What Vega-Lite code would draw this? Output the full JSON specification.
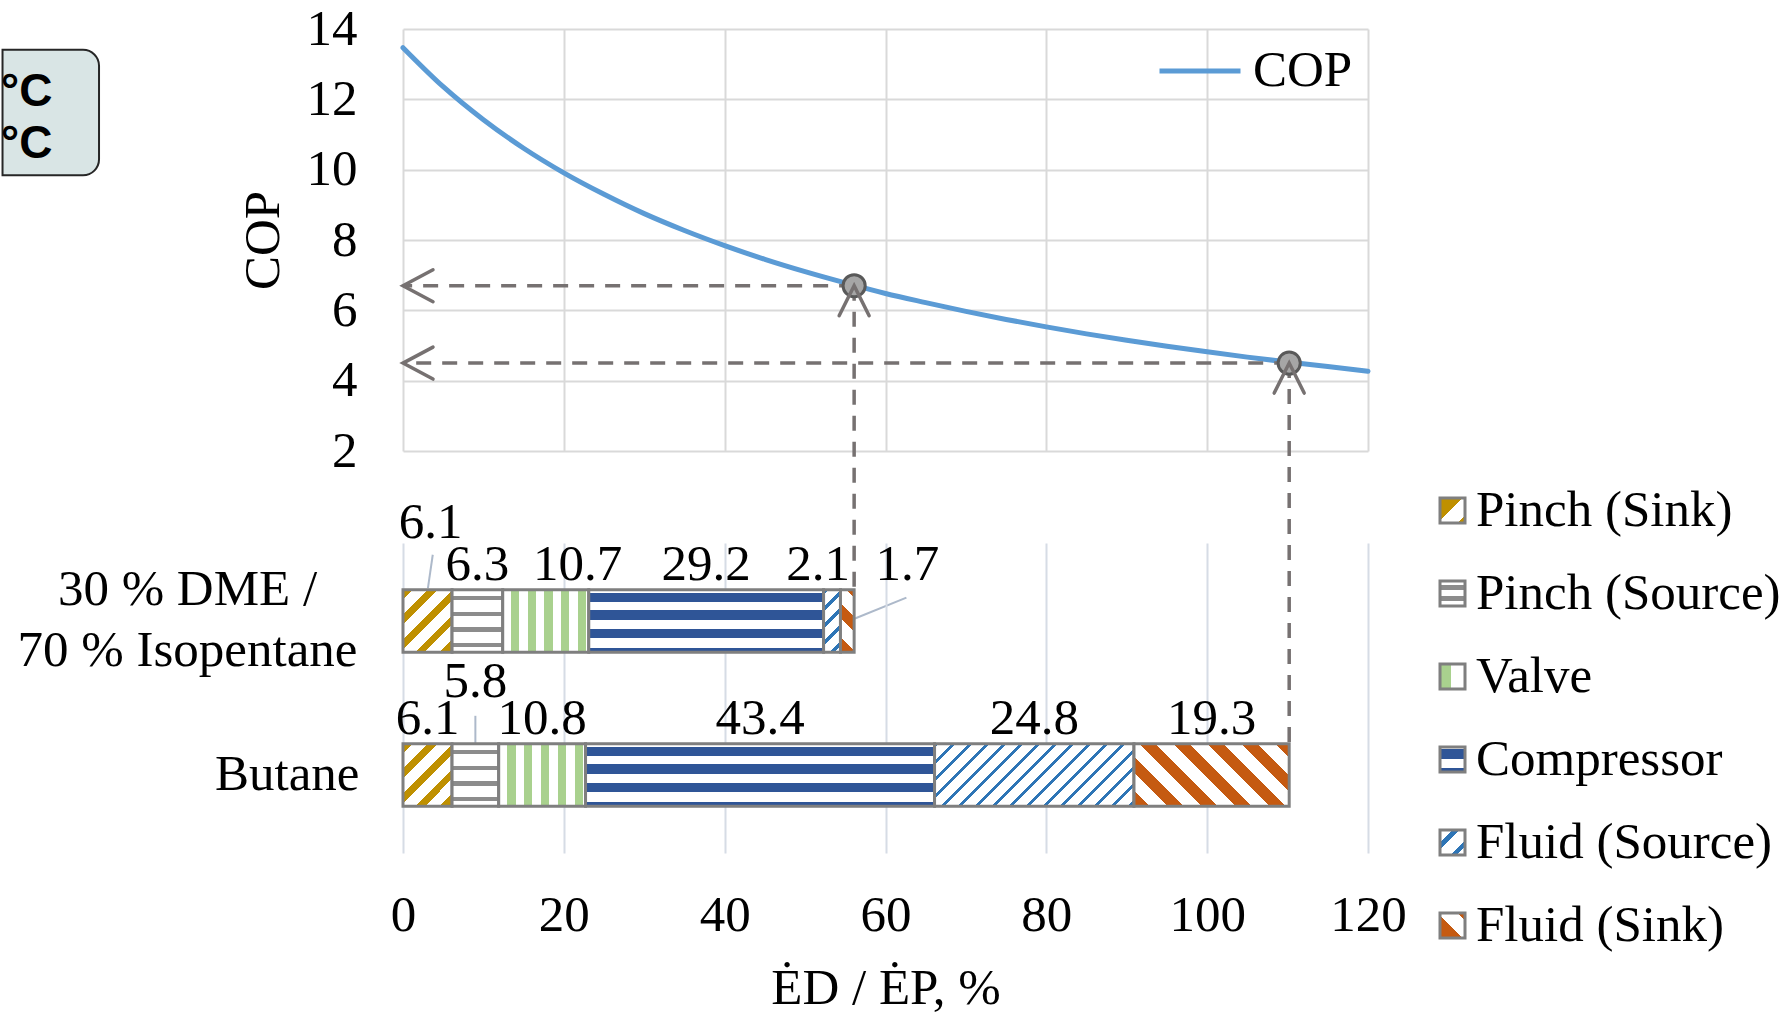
{
  "$schema": "https://vega.github.io/schema/vega-lite/v6.json",
  "background": "white",
  "padding": {"left": 0, "top": 3, "right": 0, "bottom": 0},
  "bounds": "flush",
  "spacing": 92,
  "datasets": {
    "cop": [
      {"ed": 0, "cop": 13.47}, {"ed": 5, "cop": 12.36}, {"ed": 10, "cop": 11.42}, {"ed": 15, "cop": 10.61},
      {"ed": 20, "cop": 9.91}, {"ed": 25, "cop": 9.3}, {"ed": 30, "cop": 8.75}, {"ed": 35, "cop": 8.27},
      {"ed": 40, "cop": 7.84}, {"ed": 45, "cop": 7.45}, {"ed": 50, "cop": 7.1}, {"ed": 55, "cop": 6.78},
      {"ed": 60, "cop": 6.48}, {"ed": 65, "cop": 6.22}, {"ed": 70, "cop": 5.97}, {"ed": 75, "cop": 5.74},
      {"ed": 80, "cop": 5.53}, {"ed": 85, "cop": 5.33}, {"ed": 90, "cop": 5.15}, {"ed": 95, "cop": 4.98},
      {"ed": 100, "cop": 4.82}, {"ed": 105, "cop": 4.67}, {"ed": 110, "cop": 4.53}, {"ed": 115, "cop": 4.4},
      {"ed": 120, "cop": 4.27}
    ],
    "pts": [
      {"fluid": "30 % DME / 70 % Isopentane", "ed": 56.1, "cop": 6.7},
      {"fluid": "Butane", "ed": 110.2, "cop": 4.5}
    ],
    "note": [{"lines": ["°C", "°C"]}],
    "bars": [
      {"fluid": "30 % DME / 70 % Isopentane", "component": "Pinch (Sink)", "value": 6.1, "order": 1},
      {"fluid": "30 % DME / 70 % Isopentane", "component": "Pinch (Source)", "value": 6.3, "order": 2},
      {"fluid": "30 % DME / 70 % Isopentane", "component": "Valve", "value": 10.7, "order": 3},
      {"fluid": "30 % DME / 70 % Isopentane", "component": "Compressor", "value": 29.2, "order": 4},
      {"fluid": "30 % DME / 70 % Isopentane", "component": "Fluid (Source)", "value": 2.1, "order": 5},
      {"fluid": "30 % DME / 70 % Isopentane", "component": "Fluid (Sink)", "value": 1.7, "order": 6},
      {"fluid": "Butane", "component": "Pinch (Sink)", "value": 6.1, "order": 1},
      {"fluid": "Butane", "component": "Pinch (Source)", "value": 5.8, "order": 2},
      {"fluid": "Butane", "component": "Valve", "value": 10.8, "order": 3},
      {"fluid": "Butane", "component": "Compressor", "value": 43.4, "order": 4},
      {"fluid": "Butane", "component": "Fluid (Source)", "value": 24.8, "order": 5},
      {"fluid": "Butane", "component": "Fluid (Sink)", "value": 19.3, "order": 6}
    ]
  },
  "vconcat": [
    {
      "width": 965,
      "height": 422,
      "layer": [
        {
          "data": {"name": "cop"},
          "mark": {"type": "line", "interpolate": "monotone", "strokeWidth": 5, "strokeCap": "round"},
          "encoding": {
            "x": {"field": "ed", "type": "quantitative", "scale": {"domain": [0, 120], "nice": false},
              "axis": {"values": [0, 20, 40, 60, 80, 100, 120], "labels": false, "ticks": false, "domain": false, "title": null, "grid": true, "gridColor": "#d9d9d9", "gridWidth": 2}},
            "y": {"field": "cop", "type": "quantitative", "scale": {"domain": [2, 14], "nice": false, "zero": false},
              "axis": {"values": [2, 4, 6, 8, 10, 12, 14], "grid": true, "gridColor": "#d9d9d9", "gridWidth": 2, "ticks": false, "domain": false, "labelFontSize": 51, "labelPadding": 46, "title": "COP", "titleFontSize": 51, "titleFontWeight": "normal", "titlePadding": 17}},
            "stroke": {"datum": "COP", "type": "nominal", "scale": {"range": ["#5b9bd5"]},
              "legend": {"orient": "none", "legendX": 754, "legendY": -1, "title": null, "symbolType": "stroke", "symbolSize": 6561, "symbolStrokeWidth": 5, "labelFontSize": 51, "labelOffset": 10, "padding": 0}}
          }
        },
        {
          "data": {"name": "note"},
          "mark": {"type": "rect", "fill": "#d9e5e5", "stroke": "#262626", "strokeWidth": 2, "cornerRadiusTopRight": 16, "cornerRadiusBottomRight": 16},
          "encoding": {
            "x": {"datum": -49.8, "type": "quantitative"},
            "x2": {"datum": -37.8},
            "y": {"datum": 13.41, "type": "quantitative"},
            "y2": {"datum": 9.84}
          }
        },
        {
          "data": {"name": "note"},
          "mark": {"type": "text", "align": "right", "baseline": "middle", "font": "Liberation Sans", "fontWeight": "bold", "fontSize": 46, "lineHeight": 52, "color": "#000000"},
          "encoding": {
            "x": {"datum": -43.6, "type": "quantitative"},
            "y": {"datum": 12.2, "type": "quantitative"},
            "text": {"field": "lines", "type": "nominal"}
          }
        },
        {
          "data": {"name": "note"},
          "mark": {"type": "rule", "color": "#adb9ca", "strokeWidth": 2},
          "encoding": {
            "x": {"datum": 3.7, "type": "quantitative"},
            "x2": {"datum": 3.1},
            "y": {"datum": -0.95, "type": "quantitative"},
            "y2": {"datum": -1.9}
          }
        },
        {
          "data": {"name": "note"},
          "mark": {"type": "rule", "color": "#adb9ca", "strokeWidth": 2},
          "encoding": {
            "x": {"datum": 9.0, "type": "quantitative"},
            "x2": {"datum": 9.0},
            "y": {"datum": -5.53, "type": "quantitative"},
            "y2": {"datum": -6.32}
          }
        },
        {
          "data": {"name": "note"},
          "mark": {"type": "rule", "color": "#adb9ca", "strokeWidth": 2},
          "encoding": {
            "x": {"datum": 55.9, "type": "quantitative"},
            "x2": {"datum": 62.6},
            "y": {"datum": -2.79, "type": "quantitative"},
            "y2": {"datum": -2.17}
          }
        },
        {
          "data": {"name": "pts"},
          "mark": {"type": "rule", "color": "#767171", "strokeWidth": 3.5, "strokeDash": [15, 11]},
          "encoding": {
            "x": {"field": "ed", "type": "quantitative"},
            "x2": {"datum": 0},
            "y": {"field": "cop", "type": "quantitative"}
          }
        },
        {
          "data": {"name": "pts"},
          "transform": [{"filter": "datum.fluid !== 'Butane'"}],
          "mark": {"type": "rule", "color": "#767171", "strokeWidth": 3.5, "strokeDash": [15, 11]},
          "encoding": {
            "x": {"field": "ed", "type": "quantitative"},
            "y": {"field": "cop", "type": "quantitative"},
            "y2": {"datum": -1.94}
          }
        },
        {
          "data": {"name": "pts"},
          "transform": [{"filter": "datum.fluid === 'Butane'"}],
          "mark": {"type": "rule", "color": "#767171", "strokeWidth": 3.5, "strokeDash": [15, 11]},
          "encoding": {
            "x": {"field": "ed", "type": "quantitative"},
            "y": {"field": "cop", "type": "quantitative"},
            "y2": {"datum": -6.32}
          }
        },
        {
          "data": {"name": "pts"},
          "mark": {"type": "circle", "size": 490, "fill": "#a6a6a6", "stroke": "#595959", "strokeWidth": 3, "opacity": 1},
          "encoding": {
            "x": {"field": "ed", "type": "quantitative"},
            "y": {"field": "cop", "type": "quantitative"}
          }
        },
        {
          "data": {"name": "pts"},
          "mark": {"type": "point", "shape": "M1,-0.533L0,0L1,0.533", "size": 3600, "filled": false, "color": "#767171", "strokeWidth": 3.5, "opacity": 1, "strokeCap": "round"},
          "encoding": {
            "x": {"datum": 0, "type": "quantitative"},
            "y": {"field": "cop", "type": "quantitative"}
          }
        },
        {
          "data": {"name": "pts"},
          "mark": {"type": "point", "shape": "M-0.5,1L0,0L0.5,1", "size": 3600, "filled": false, "color": "#767171", "strokeWidth": 3.5, "opacity": 1, "strokeCap": "round"},
          "encoding": {
            "x": {"field": "ed", "type": "quantitative"},
            "y": {"field": "cop", "type": "quantitative"}
          }
        }
      ]
    },
    {
      "width": 965,
      "height": 310,
      "data": {"name": "bars"},
      "transform": [{"stack": "value", "groupby": ["fluid"], "sort": [{"field": "order", "order": "ascending"}], "as": ["x0", "x1"]}],
      "layer": [
        {
          "mark": {"type": "bar", "stroke": "#7f7f7f", "strokeWidth": 3},
          "encoding": {
            "x": {"field": "x0", "type": "quantitative", "stack": null, "scale": {"domain": [0, 120], "nice": false},
              "axis": {"values": [0, 20, 40, 60, 80, 100, 120], "grid": true, "gridColor": "#d6dce5", "gridWidth": 2, "ticks": false, "domain": false, "labelFontSize": 51, "labelPadding": 37, "labelFlush": false, "title": "ĖD / ĖP, %", "titleFontSize": 51, "titleFontWeight": "normal", "titlePadding": 23}},
            "x2": {"field": "x1"},
            "y": {"field": "fluid", "type": "nominal", "sort": ["30 % DME / 70 % Isopentane", "Butane"], "scale": {"paddingInner": 0.5955, "paddingOuter": 0.304},
              "axis": {"ticks": false, "domain": false, "grid": false, "labelFontSize": 51, "labelLimit": 1000, "labelLineHeight": 61, "title": null,
                "labelAlign": {"condition": {"test": "datum.value === 'Butane'", "value": "right"}, "value": "center"},
                "labelPadding": {"condition": {"test": "datum.value === 'Butane'", "value": 44}, "value": 216},
                "labelOffset": {"condition": {"test": "datum.value === 'Butane'", "value": 0}, "value": -30.5},
                "labelExpr": "datum.value === 'Butane' ? 'Butane' : ['30 % DME /', '70 % Isopentane']"}},
            "fill": {
              "field": "component", "type": "nominal",
              "scale": {"domain": ["Pinch (Sink)", "Pinch (Source)", "Valve", "Compressor", "Fluid (Source)", "Fluid (Sink)"],
                        "range": [
                          {"expr": "{gradient:'linear',x1:0,y1:0,x2:1,y2:1,stops:[{offset:0,color:'#bf9000'},{offset:0.45,color:'#bf9000'},{offset:0.45,color:'#ffffff'},{offset:0.85,color:'#ffffff'},{offset:0.85,color:'#bf9000'},{offset:1,color:'#bf9000'}]}"},
                          {"expr": "{gradient:'linear',x1:0,y1:0,x2:0,y2:1,stops:[{offset:0,color:'#ffffff'},{offset:0.15,color:'#ffffff'},{offset:0.15,color:'#8c8c8c'},{offset:0.35,color:'#8c8c8c'},{offset:0.35,color:'#ffffff'},{offset:0.6,color:'#ffffff'},{offset:0.6,color:'#8c8c8c'},{offset:0.8,color:'#8c8c8c'},{offset:0.8,color:'#ffffff'},{offset:1,color:'#ffffff'}]}"},
                          {"expr": "{gradient:'linear',x1:0,y1:0,x2:1,y2:0,stops:[{offset:0,color:'#a9d18e'},{offset:0.45,color:'#a9d18e'},{offset:0.45,color:'#ffffff'},{offset:1,color:'#ffffff'}]}"},
                          {"expr": "{gradient:'linear',x1:0,y1:0,x2:0,y2:1,stops:[{offset:0,color:'#ffffff'},{offset:0.08,color:'#ffffff'},{offset:0.08,color:'#2f5597'},{offset:0.5,color:'#2f5597'},{offset:0.5,color:'#ffffff'},{offset:0.85,color:'#ffffff'},{offset:0.85,color:'#2f5597'},{offset:1,color:'#2f5597'}]}"},
                          {"expr": "{gradient:'linear',x1:0,y1:0,x2:1,y2:1,stops:[{offset:0,color:'#ffffff'},{offset:0.25,color:'#ffffff'},{offset:0.25,color:'#2e75b6'},{offset:0.38,color:'#2e75b6'},{offset:0.38,color:'#ffffff'},{offset:0.7,color:'#ffffff'},{offset:0.7,color:'#2e75b6'},{offset:0.83,color:'#2e75b6'},{offset:0.83,color:'#ffffff'},{offset:1,color:'#ffffff'}]}"},
                          {"expr": "{gradient:'linear',x1:0,y1:1,x2:1,y2:0,stops:[{offset:0,color:'#c55a11'},{offset:0.45,color:'#c55a11'},{offset:0.45,color:'#ffffff'},{offset:0.85,color:'#ffffff'},{offset:0.85,color:'#c55a11'},{offset:1,color:'#c55a11'}]}"}
                        ]},
              "legend": {"orient": "none", "legendX": 1024, "legendY": 456, "title": null, "symbolType": "square", "symbolSize": 625, "symbolStrokeColor": "#7f7f7f", "symbolStrokeWidth": 3, "labelFontSize": 51, "labelOffset": -2, "labelLimit": 1000, "rowPadding": 31, "padding": 0},
              "condition": [
                {"test": "datum.component === 'Pinch (Sink)'", "value": {"gradient": "linear", "x1": 0, "y1": 0, "x2": 0.869, "y2": 1.103, "stops": [
                  {"offset": 0, "color": "#bf9000"}, {"offset": 0.0889, "color": "#bf9000"}, {"offset": 0.0889, "color": "#ffffff"}, {"offset": 0.2222, "color": "#ffffff"},
                  {"offset": 0.2222, "color": "#bf9000"}, {"offset": 0.3111, "color": "#bf9000"}, {"offset": 0.3111, "color": "#ffffff"}, {"offset": 0.4444, "color": "#ffffff"},
                  {"offset": 0.4444, "color": "#bf9000"}, {"offset": 0.5333, "color": "#bf9000"}, {"offset": 0.5333, "color": "#ffffff"}, {"offset": 0.6667, "color": "#ffffff"},
                  {"offset": 0.6667, "color": "#bf9000"}, {"offset": 0.7556, "color": "#bf9000"}, {"offset": 0.7556, "color": "#ffffff"}, {"offset": 0.8889, "color": "#ffffff"},
                  {"offset": 0.8889, "color": "#bf9000"}, {"offset": 0.9778, "color": "#bf9000"}, {"offset": 0.9778, "color": "#ffffff"}, {"offset": 1, "color": "#ffffff"}]}},
                {"test": "datum.component === 'Pinch (Source)'", "value": {"gradient": "linear", "x1": 0, "y1": 0, "x2": 0, "y2": 1, "stops": [
                  {"offset": 0, "color": "#ffffff"}, {"offset": 0.1, "color": "#ffffff"}, {"offset": 0.1, "color": "#8c8c8c"}, {"offset": 0.17, "color": "#8c8c8c"},
                  {"offset": 0.17, "color": "#ffffff"}, {"offset": 0.35, "color": "#ffffff"}, {"offset": 0.35, "color": "#8c8c8c"}, {"offset": 0.42, "color": "#8c8c8c"},
                  {"offset": 0.42, "color": "#ffffff"}, {"offset": 0.6, "color": "#ffffff"}, {"offset": 0.6, "color": "#8c8c8c"}, {"offset": 0.67, "color": "#8c8c8c"},
                  {"offset": 0.67, "color": "#ffffff"}, {"offset": 0.85, "color": "#ffffff"}, {"offset": 0.85, "color": "#8c8c8c"}, {"offset": 0.92, "color": "#8c8c8c"},
                  {"offset": 0.92, "color": "#ffffff"}, {"offset": 1, "color": "#ffffff"}]}},
                {"test": "datum.component === 'Valve'", "value": {"gradient": "linear", "x1": 0, "y1": 0, "x2": 1, "y2": 0, "stops": [
                  {"offset": 0, "color": "#ffffff"}, {"offset": 0.097, "color": "#ffffff"}, {"offset": 0.097, "color": "#a9d18e"}, {"offset": 0.194, "color": "#a9d18e"},
                  {"offset": 0.194, "color": "#ffffff"}, {"offset": 0.291, "color": "#ffffff"}, {"offset": 0.291, "color": "#a9d18e"}, {"offset": 0.388, "color": "#a9d18e"},
                  {"offset": 0.388, "color": "#ffffff"}, {"offset": 0.485, "color": "#ffffff"}, {"offset": 0.485, "color": "#a9d18e"}, {"offset": 0.582, "color": "#a9d18e"},
                  {"offset": 0.582, "color": "#ffffff"}, {"offset": 0.679, "color": "#ffffff"}, {"offset": 0.679, "color": "#a9d18e"}, {"offset": 0.776, "color": "#a9d18e"},
                  {"offset": 0.776, "color": "#ffffff"}, {"offset": 0.873, "color": "#ffffff"}, {"offset": 0.873, "color": "#a9d18e"}, {"offset": 0.97, "color": "#a9d18e"},
                  {"offset": 0.97, "color": "#ffffff"}, {"offset": 1, "color": "#ffffff"}]}},
                {"test": "datum.component === 'Compressor'", "value": {"gradient": "linear", "x1": 0, "y1": 0, "x2": 0, "y2": 1, "stops": [
                  {"offset": 0, "color": "#ffffff"}, {"offset": 0.045, "color": "#ffffff"}, {"offset": 0.045, "color": "#2f5597"}, {"offset": 0.19, "color": "#2f5597"},
                  {"offset": 0.19, "color": "#ffffff"}, {"offset": 0.33, "color": "#ffffff"}, {"offset": 0.33, "color": "#2f5597"}, {"offset": 0.48, "color": "#2f5597"},
                  {"offset": 0.48, "color": "#ffffff"}, {"offset": 0.63, "color": "#ffffff"}, {"offset": 0.63, "color": "#2f5597"}, {"offset": 0.78, "color": "#2f5597"},
                  {"offset": 0.78, "color": "#ffffff"}, {"offset": 0.93, "color": "#ffffff"}, {"offset": 0.93, "color": "#2f5597"}, {"offset": 1, "color": "#2f5597"}]}},
                {"test": "datum.component === 'Fluid (Source)' && datum.fluid === 'Butane'", "value": {"gradient": "linear", "x1": 0, "y1": 0, "x2": 1.196, "y2": 0.374, "stops": [
                  {"offset": 0, "color": "#2e75b6"}, {"offset": 0.0143, "color": "#2e75b6"}, {"offset": 0.0143, "color": "#ffffff"}, {"offset": 0.0649, "color": "#ffffff"},
                  {"offset": 0.0649, "color": "#2e75b6"}, {"offset": 0.0792, "color": "#2e75b6"}, {"offset": 0.0792, "color": "#ffffff"}, {"offset": 0.1299, "color": "#ffffff"},
                  {"offset": 0.1299, "color": "#2e75b6"}, {"offset": 0.1442, "color": "#2e75b6"}, {"offset": 0.1442, "color": "#ffffff"}, {"offset": 0.1948, "color": "#ffffff"},
                  {"offset": 0.1948, "color": "#2e75b6"}, {"offset": 0.2091, "color": "#2e75b6"}, {"offset": 0.2091, "color": "#ffffff"}, {"offset": 0.2597, "color": "#ffffff"},
                  {"offset": 0.2597, "color": "#2e75b6"}, {"offset": 0.274, "color": "#2e75b6"}, {"offset": 0.274, "color": "#ffffff"}, {"offset": 0.3247, "color": "#ffffff"},
                  {"offset": 0.3247, "color": "#2e75b6"}, {"offset": 0.339, "color": "#2e75b6"}, {"offset": 0.339, "color": "#ffffff"}, {"offset": 0.3896, "color": "#ffffff"},
                  {"offset": 0.3896, "color": "#2e75b6"}, {"offset": 0.4039, "color": "#2e75b6"}, {"offset": 0.4039, "color": "#ffffff"}, {"offset": 0.4545, "color": "#ffffff"},
                  {"offset": 0.4545, "color": "#2e75b6"}, {"offset": 0.4688, "color": "#2e75b6"}, {"offset": 0.4688, "color": "#ffffff"}, {"offset": 0.5195, "color": "#ffffff"},
                  {"offset": 0.5195, "color": "#2e75b6"}, {"offset": 0.5338, "color": "#2e75b6"}, {"offset": 0.5338, "color": "#ffffff"}, {"offset": 0.5844, "color": "#ffffff"},
                  {"offset": 0.5844, "color": "#2e75b6"}, {"offset": 0.5987, "color": "#2e75b6"}, {"offset": 0.5987, "color": "#ffffff"}, {"offset": 0.6494, "color": "#ffffff"},
                  {"offset": 0.6494, "color": "#2e75b6"}, {"offset": 0.6637, "color": "#2e75b6"}, {"offset": 0.6637, "color": "#ffffff"}, {"offset": 0.7143, "color": "#ffffff"},
                  {"offset": 0.7143, "color": "#2e75b6"}, {"offset": 0.7286, "color": "#2e75b6"}, {"offset": 0.7286, "color": "#ffffff"}, {"offset": 0.7792, "color": "#ffffff"},
                  {"offset": 0.7792, "color": "#2e75b6"}, {"offset": 0.7935, "color": "#2e75b6"}, {"offset": 0.7935, "color": "#ffffff"}, {"offset": 0.8442, "color": "#ffffff"},
                  {"offset": 0.8442, "color": "#2e75b6"}, {"offset": 0.8585, "color": "#2e75b6"}, {"offset": 0.8585, "color": "#ffffff"}, {"offset": 0.9091, "color": "#ffffff"},
                  {"offset": 0.9091, "color": "#2e75b6"}, {"offset": 0.9234, "color": "#2e75b6"}, {"offset": 0.9234, "color": "#ffffff"}, {"offset": 0.974, "color": "#ffffff"},
                  {"offset": 0.974, "color": "#2e75b6"}, {"offset": 0.9883, "color": "#2e75b6"}, {"offset": 0.9883, "color": "#ffffff"}, {"offset": 1, "color": "#ffffff"}]}},
                {"test": "datum.component === 'Fluid (Source)'", "value": {"gradient": "linear", "x1": 0, "y1": 0, "x2": 0.321, "y2": 1.184, "stops": [
                  {"offset": 0, "color": "#2e75b6"}, {"offset": 0.0644, "color": "#2e75b6"}, {"offset": 0.0644, "color": "#ffffff"}, {"offset": 0.2146, "color": "#ffffff"},
                  {"offset": 0.2146, "color": "#2e75b6"}, {"offset": 0.279, "color": "#2e75b6"}, {"offset": 0.279, "color": "#ffffff"}, {"offset": 0.4292, "color": "#ffffff"},
                  {"offset": 0.4292, "color": "#2e75b6"}, {"offset": 0.4936, "color": "#2e75b6"}, {"offset": 0.4936, "color": "#ffffff"}, {"offset": 0.6438, "color": "#ffffff"},
                  {"offset": 0.6438, "color": "#2e75b6"}, {"offset": 0.7082, "color": "#2e75b6"}, {"offset": 0.7082, "color": "#ffffff"}, {"offset": 0.8584, "color": "#ffffff"},
                  {"offset": 0.8584, "color": "#2e75b6"}, {"offset": 0.9228, "color": "#2e75b6"}, {"offset": 0.9228, "color": "#ffffff"}, {"offset": 1, "color": "#ffffff"}]}},
                {"test": "datum.component === 'Fluid (Sink)' && datum.fluid === 'Butane'", "value": {"gradient": "linear", "x1": 0, "y1": 1, "x2": 1.207, "y2": 0.516, "stops": [
                  {"offset": 0, "color": "#c55a11"}, {"offset": 0.0703, "color": "#c55a11"}, {"offset": 0.0703, "color": "#ffffff"}, {"offset": 0.1563, "color": "#ffffff"},
                  {"offset": 0.1563, "color": "#c55a11"}, {"offset": 0.2266, "color": "#c55a11"}, {"offset": 0.2266, "color": "#ffffff"}, {"offset": 0.3125, "color": "#ffffff"},
                  {"offset": 0.3125, "color": "#c55a11"}, {"offset": 0.3828, "color": "#c55a11"}, {"offset": 0.3828, "color": "#ffffff"}, {"offset": 0.4688, "color": "#ffffff"},
                  {"offset": 0.4688, "color": "#c55a11"}, {"offset": 0.5391, "color": "#c55a11"}, {"offset": 0.5391, "color": "#ffffff"}, {"offset": 0.625, "color": "#ffffff"},
                  {"offset": 0.625, "color": "#c55a11"}, {"offset": 0.6953, "color": "#c55a11"}, {"offset": 0.6953, "color": "#ffffff"}, {"offset": 0.7813, "color": "#ffffff"},
                  {"offset": 0.7813, "color": "#c55a11"}, {"offset": 0.8516, "color": "#c55a11"}, {"offset": 0.8516, "color": "#ffffff"}, {"offset": 0.9375, "color": "#ffffff"},
                  {"offset": 0.9375, "color": "#c55a11"}, {"offset": 1, "color": "#c55a11"}]}},
                {"test": "datum.component === 'Fluid (Sink)'", "value": {"gradient": "linear", "x1": 0, "y1": 1, "x2": 0.256, "y2": -0.164, "stops": [
                  {"offset": 0, "color": "#c55a11"}, {"offset": 0.2009, "color": "#c55a11"}, {"offset": 0.2009, "color": "#ffffff"}, {"offset": 0.4464, "color": "#ffffff"},
                  {"offset": 0.4464, "color": "#c55a11"}, {"offset": 0.6473, "color": "#c55a11"}, {"offset": 0.6473, "color": "#ffffff"}, {"offset": 0.8929, "color": "#ffffff"},
                  {"offset": 0.8929, "color": "#c55a11"}, {"offset": 1, "color": "#c55a11"}]}}
              ]
            }
          }
        },
        {
          "transform": [
            {"fold": ["x0", "x1"], "as": ["edge", "pos"]},
            {"aggregate": [{"op": "mean", "field": "pos", "as": "mid"}], "groupby": ["fluid", "component", "value"]}
          ],
          "layer": [
            {
              "transform": [{"filter": "!((datum.fluid !== 'Butane' && (datum.component === 'Pinch (Sink)' || datum.component === 'Valve' || datum.component === 'Fluid (Source)' || datum.component === 'Fluid (Sink)')) || (datum.fluid === 'Butane' && datum.component === 'Pinch (Source)'))"}],
              "mark": {"type": "text", "fontSize": 51, "font": "Liberation Serif", "baseline": "alphabetic", "align": "center", "dy": -10, "color": "#000000"},
              "encoding": {
                "x": {"field": "mid", "type": "quantitative"},
                "y": {"field": "fluid", "type": "nominal", "sort": ["30 % DME / 70 % Isopentane", "Butane"], "bandPosition": 0},
                "text": {"field": "value", "type": "quantitative", "format": ".1f"}
              }
            },
            {
              "transform": [{"filter": "datum.fluid !== 'Butane' && datum.component === 'Valve'"}],
              "mark": {"type": "text", "fontSize": 51, "font": "Liberation Serif", "baseline": "alphabetic", "align": "center", "dx": 32, "dy": -10, "color": "#000000"},
              "encoding": {
                "x": {"field": "mid", "type": "quantitative"},
                "y": {"field": "fluid", "type": "nominal", "sort": ["30 % DME / 70 % Isopentane", "Butane"], "bandPosition": 0},
                "text": {"field": "value", "type": "quantitative", "format": ".1f"}
              }
            },
            {
              "transform": [{"filter": "datum.fluid !== 'Butane' && datum.component === 'Fluid (Source)'"}],
              "mark": {"type": "text", "fontSize": 51, "font": "Liberation Serif", "baseline": "alphabetic", "align": "center", "dx": -14, "dy": -10, "color": "#000000"},
              "encoding": {
                "x": {"field": "mid", "type": "quantitative"},
                "y": {"field": "fluid", "type": "nominal", "sort": ["30 % DME / 70 % Isopentane", "Butane"], "bandPosition": 0},
                "text": {"field": "value", "type": "quantitative", "format": ".1f"}
              }
            },
            {
              "transform": [{"filter": "datum.fluid !== 'Butane' && datum.component === 'Fluid (Sink)'"}],
              "mark": {"type": "text", "fontSize": 51, "font": "Liberation Serif", "baseline": "alphabetic", "align": "center", "dx": 60, "dy": -10, "color": "#000000"},
              "encoding": {
                "x": {"field": "mid", "type": "quantitative"},
                "y": {"field": "fluid", "type": "nominal", "sort": ["30 % DME / 70 % Isopentane", "Butane"], "bandPosition": 0},
                "text": {"field": "value", "type": "quantitative", "format": ".1f"}
              }
            },
            {
              "transform": [{"filter": "datum.fluid !== 'Butane' && datum.component === 'Pinch (Sink)'"}],
              "mark": {"type": "text", "fontSize": 51, "font": "Liberation Serif", "baseline": "alphabetic", "align": "center", "dx": 3, "dy": -52, "color": "#000000"},
              "encoding": {
                "x": {"field": "mid", "type": "quantitative"},
                "y": {"field": "fluid", "type": "nominal", "sort": ["30 % DME / 70 % Isopentane", "Butane"], "bandPosition": 0},
                "text": {"field": "value", "type": "quantitative", "format": ".1f"}
              }
            },
            {
              "transform": [{"filter": "datum.fluid === 'Butane' && datum.component === 'Pinch (Source)'"}],
              "mark": {"type": "text", "fontSize": 51, "font": "Liberation Serif", "baseline": "alphabetic", "align": "center", "dy": -47, "color": "#000000"},
              "encoding": {
                "x": {"field": "mid", "type": "quantitative"},
                "y": {"field": "fluid", "type": "nominal", "sort": ["30 % DME / 70 % Isopentane", "Butane"], "bandPosition": 0},
                "text": {"field": "value", "type": "quantitative", "format": ".1f"}
              }
            }
          ]
        }
      ]
    }
  ],
  "config": {
    "font": "Liberation Serif",
    "view": {"stroke": null},
    "axis": {"labelFont": "Liberation Serif", "titleFont": "Liberation Serif", "labelColor": "#000000", "titleColor": "#000000"},
    "legend": {"labelFont": "Liberation Serif", "labelColor": "#000000"}
  }
}
